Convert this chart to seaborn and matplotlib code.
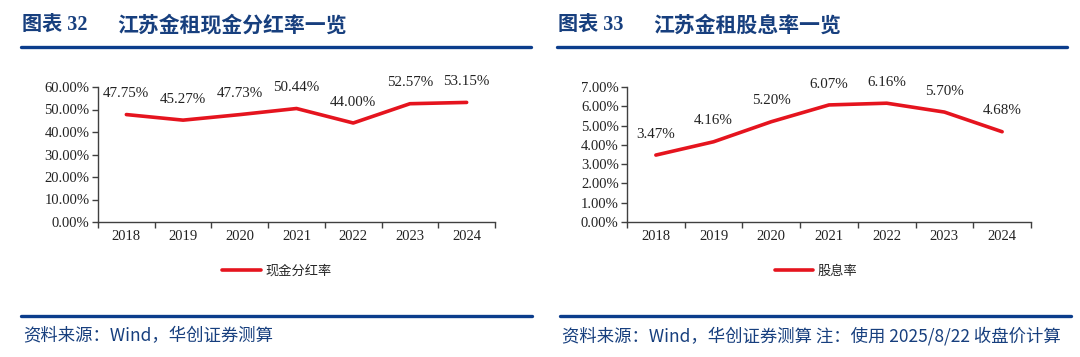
import numpy as np
import pandas as pd
import matplotlib
matplotlib.use("Agg")
import matplotlib.pyplot as plt
from matplotlib.lines import Line2D
from matplotlib.ticker import FixedLocator, FuncFormatter
import seaborn as sns

# ---------------- data ----------------
years = ["2018", "2019", "2020", "2021", "2022", "2023", "2024"]
payout_ratio = [47.75, 45.27, 47.73, 50.44, 44.00, 52.57, 53.15]
dividend_yield = [3.47, 4.16, 5.20, 6.07, 6.16, 5.70, 4.68]

title_left_no = "图表 32"
title_left = "江苏金租现金分红率一览"
title_right_no = "图表 33"
title_right = "江苏金租股息率一览"
legend_left = "现金分红率"
legend_right = "股息率"
source_left = "资料来源：Wind，华创证券测算"
source_right = "资料来源：Wind，华创证券测算 注：使用 2025/8/22 收盘价计算"

# ---------------- style ----------------
sns.set_theme(style="white")
plt.rcParams["font.family"] = ["Liberation Serif", "Noto Sans CJK SC", "DejaVu Sans"]

RED = "#E5141E"
NAVY = "#173F7E"
RULE = "#0B3D8C"
AX = "#404040"
TXT = "#222222"

W, H = 1080, 357
fig = plt.figure(figsize=(W / 100, H / 100), dpi=100)


def fx(px):
    return px / W


def fy(py):
    return 1 - py / H


def make_panel(left_px, right_px, values, ymax, ystep, label, legend_cx):
    top_px, bot_px = 87, 222
    ax = fig.add_axes([fx(left_px), fy(bot_px), fx(right_px - left_px), (bot_px - top_px) / H])
    df = pd.DataFrame({"pos": np.arange(len(years)), "val": values})
    sns.lineplot(data=df, x="pos", y="val", ax=ax, color=RED, linewidth=2.6,
                 label=label, legend=False)
    ax.set_xlim(-0.5, len(years) - 0.5)
    ax.set_ylim(0, ymax)
    ax.set_xlabel("")
    ax.set_ylabel("")
    ax.yaxis.set_major_locator(FixedLocator(np.arange(0, ymax + 1e-9, ystep)))
    ax.yaxis.set_major_formatter(FuncFormatter(lambda v, p: f"{v:.2f}%"))
    ax.set_xticks(np.arange(len(years)))
    ax.set_xticklabels(years)
    ax.xaxis.set_minor_locator(FixedLocator(np.arange(-0.5, len(years), 1.0)))
    ax.tick_params(axis="x", which="major", length=0, pad=6, labelsize=10.5, labelcolor=TXT)
    ax.tick_params(axis="x", which="minor", length=4, width=1, color=AX, direction="out", bottom=True)
    ax.tick_params(axis="y", which="major", length=4, width=1, color=AX, direction="out",
                   left=True, pad=2, labelsize=10.5, labelcolor=TXT)
    for s in ["top", "right"]:
        ax.spines[s].set_visible(False)
    for s in ["left", "bottom"]:
        ax.spines[s].set_color(AX)
        ax.spines[s].set_linewidth(1.0)
    ax.grid(False)
    for x, v in zip(df["pos"], df["val"]):
        ax.annotate(f"{v:.2f}%", (x, v), xytext=(0, 15), textcoords="offset points",
                    ha="center", va="center", fontsize=10.8, color=TXT)
    handle = Line2D([], [], color=RED, linewidth=2.6)
    fig.legend([handle], [label], loc="center", bbox_to_anchor=(fx(legend_cx), fy(271)),
               frameon=False, handlelength=2.9, handletextpad=0.35,
               borderpad=0, prop={"family": ["Noto Sans CJK SC"], "size": 9.5})
    return ax


make_panel(98, 495, payout_ratio, 60, 10, legend_left, 277)
make_panel(627, 1031, dividend_yield, 7, 1, legend_right, 816)


def header(x0, x1, no, title):
    fig.text(fx(x0 + 1), fy(25), no, fontsize=14.5, fontweight="bold", color=NAVY,
             ha="left", va="center", family=["Liberation Serif", "Noto Sans CJK SC"])
    fig.text(fx(x0 + 96), fy(25), title, fontsize=15, fontweight="bold", color=NAVY,
             ha="left", va="center", family=["Noto Sans CJK SC"])
    fig.add_artist(Line2D([fx(x0), fx(x1)], [fy(47), fy(47)], color=RULE, linewidth=2.4))


def footer(x0, x1, text):
    fig.add_artist(Line2D([fx(x0), fx(x1)], [fy(316), fy(316)], color=RULE, linewidth=2.4))
    fig.text(fx(x0 + 2), fy(336), text, fontsize=12.5, color=NAVY, ha="left", va="center",
             style="italic", family=["Noto Sans CJK SC", "DejaVu Sans"])


header(21, 531, title_left_no, title_left)
header(557, 1067, title_right_no, title_right)
footer(21, 532, source_left)
footer(560, 1071, source_right)

fig.savefig("out.png", dpi=100)
